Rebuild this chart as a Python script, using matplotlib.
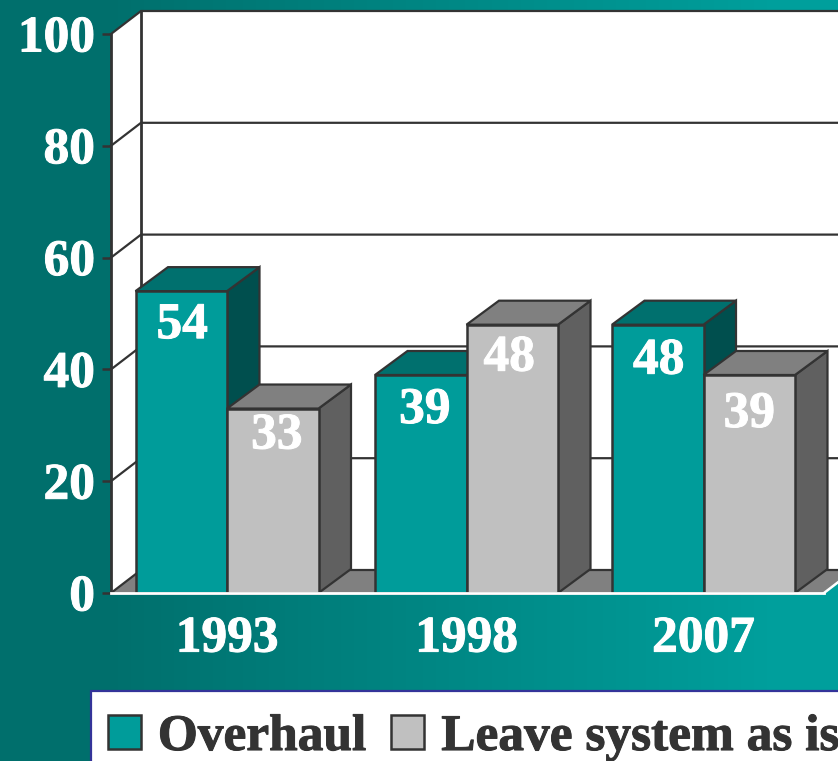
import numpy as np
import matplotlib
matplotlib.use("Agg")
import matplotlib.pyplot as plt
import matplotlib.patheffects as pe
from matplotlib.patches import Polygon, Patch, Rectangle

years = ["1993", "1998", "2007"]
overhaul = [54, 39, 48]
leave = [33, 48, 39]
y_ticks = [0, 20, 40, 60, 80, 100]
series_names = ["Overhaul", "Leave system as is"]

W, H = 838, 761
DARK = "#333333"
TEAL = ("#009c9a", "#00706e", "#004f4e")
GRAY = ("#c0c0c0", "#808080", "#606060")

plt.rcParams["font.family"] = ["Liberation Serif", "DejaVu Serif"]
plt.rcParams["font.weight"] = "bold"
plt.rcParams["font.size"] = 37

fig = plt.figure(figsize=(W / 100, H / 100), dpi=100)

# background gradient
bg = fig.add_axes([0, 0, 1, 1], zorder=-1)
grad = np.clip((np.linspace(0, 1, 256) - 0.12) / 0.8, 0, 1).reshape(1, -1)
cmap = matplotlib.colors.LinearSegmentedColormap.from_list("t", ["#006f6c", "#009f9c"])
bg.imshow(grad, aspect="auto", cmap=cmap, extent=[0, 1, 0, 1])
bg.axis("off")

# main axes, x is in pixels, y is the value
ax = fig.add_axes([111 / W, (H - 593) / H, (W - 111) / W, 559 / H])
ax.set_xlim(111, W)
ax.set_ylim(0, 100)
ax.patch.set_visible(False)

PX = 100 / 559  # one pixel in value units
wall_dx, wall_dy = 30, 23 * PX
bar_dx, bar_dy = 32.5, 24 * PX
bar_w = 91.5
group_left = [135.5, 375, 612]
floor_right = 824
# hand placed value labels, pixels from bar centre / bar top (overhaul, leave)
label_dx = [(1, 4), (4, -3), (1, 0)]
label_dy = [(35, 28), (36, 34), (37, 40)]
thick = [pe.withStroke(linewidth=0.7, foreground="white")]


def poly(pts, fc, z, ec=DARK, lw=1.6):
    ax.add_patch(Polygon(pts, closed=True, fc=fc, ec=ec, lw=lw, zorder=z, clip_on=False, joinstyle="miter"))


# walls and floor
poly([(111, 0), (111, 100), (111 + wall_dx, 100 + wall_dy), (111 + wall_dx, wall_dy)], "white", 1, ec="none")
poly([(111 + wall_dx, wall_dy), (111 + wall_dx, 100 + wall_dy), (W + 40, 100 + wall_dy), (W + 40, wall_dy)], "white", 1, ec="none")
poly([(111, 0), (111 + wall_dx, wall_dy), (floor_right + wall_dx, wall_dy), (floor_right, 0)], "#808080", 2, ec="none")

for v in y_ticks:
    ax.plot([111, 111 + wall_dx, W + 40], [v, v + wall_dy, v + wall_dy], color=DARK, lw=1.6, zorder=2.5,
            clip_on=False, solid_joinstyle="miter")
ax.plot([111 + wall_dx] * 2, [wall_dy, 100 + wall_dy], color=DARK, lw=2, zorder=2.5, clip_on=False)
ax.plot([floor_right, floor_right + wall_dx], [0, wall_dy], color="white", lw=1.8, zorder=2.6, clip_on=False)


def bar3d(x, v, cols, z):
    poly([(x + bar_w, v), (x + bar_w + bar_dx, v + bar_dy), (x + bar_w + bar_dx, bar_dy), (x + bar_w, 0)], cols[2], z)
    poly([(x, v), (x + bar_dx, v + bar_dy), (x + bar_w + bar_dx, v + bar_dy), (x + bar_w, v)], cols[1], z)
    ax.bar(x, v, width=bar_w, align="edge", color=cols[0], edgecolor=DARK, lw=1.8, zorder=z + 0.1, clip_on=False)


for i, left in enumerate(group_left):
    bar3d(left, overhaul[i], TEAL, 3 + i * 2)
    bar3d(left + bar_w, leave[i], GRAY, 4 + i * 2)
    for j, (x, v) in enumerate(((left, overhaul[i]), (left + bar_w, leave[i]))):
        ax.annotate(str(v), (x + bar_w / 2, v), xytext=(label_dx[i][j] * 0.72, -label_dy[i][j] * 0.72),
                    textcoords="offset points", ha="center", va="center", color="white", zorder=20,
                    path_effects=thick)

# axis lines, ticks
for s in ("top", "right"):
    ax.spines[s].set_visible(False)
ax.spines["left"].set_color(DARK)
ax.spines["left"].set_linewidth(2)
ax.spines["left"].set_zorder(2.7)
ax.spines["bottom"].set_color("white")
ax.spines["bottom"].set_linewidth(2)
ax.spines["bottom"].set_bounds(111, floor_right)
ax.spines["bottom"].set_zorder(15)

ax.set_yticks(y_ticks)
ax.tick_params(axis="y", colors=DARK, length=6.5, width=1.8, pad=5, labelcolor="white")
ax.set_xticks([left + bar_w for left in group_left], years)
ax.tick_params(axis="x", length=0, pad=17, labelcolor="white")
for lab in ax.get_yticklabels() + ax.get_xticklabels():
    lab.set_path_effects(thick)

# legend box runs past the edge of the picture
fig.add_artist(Rectangle((91 / W, -0.05), 1, (H - 691) / H + 0.05, transform=fig.transFigure,
                         fc="white", ec="#333399", lw=1.6, zorder=30))
handles = [Patch(fc=TEAL[0], ec=DARK, lw=1.8), Patch(fc=GRAY[0], ec=DARK, lw=1.8)]
leg = fig.legend(handles, series_names, loc="upper left", bbox_to_anchor=(108 / W, (H - 715) / H),
                 ncol=2, frameon=False, borderpad=0, borderaxespad=0, handlelength=0.64, handleheight=0.64,
                 handletextpad=0.33, columnspacing=0.49, labelcolor=DARK)
leg.set_zorder(31)
for t in leg.get_texts():
    t.set_path_effects([pe.withStroke(linewidth=0.7, foreground=DARK)])

fig.savefig("out.png", dpi=100)
